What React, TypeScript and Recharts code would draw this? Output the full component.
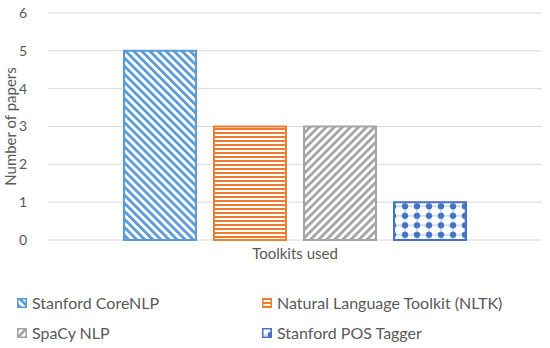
import { BarChart, Bar, XAxis, YAxis, CartesianGrid, Label } from "recharts";

const categories = ["Toolkits used"];
const seriesNames = [
  "Stanford CoreNLP",
  "Natural Language Toolkit (NLTK)",
  "SpaCy NLP",
  "Stanford POS Tagger",
];
const seriesValues = [5, 3, 3, 1];
const yTicks = [0, 1, 2, 3, 4, 5, 6];

const seriesKeys = ["s0", "s1", "s2", "s3"];
const strokes = ["#5B9BD5", "#ED7D31", "#A5A5A5", "#4472C4"];
const patternIds = ["pat-diag-down", "pat-horiz", "pat-diag-up", "pat-dots"];

const data = categories.map((name) => {
  const row: Record<string, string | number> = { name };
  seriesKeys.forEach((k, i) => {
    row[k] = seriesValues[i];
  });
  return row;
});

const FONT = "Lato, 'Open Sans', sans-serif";
const TEXT = "#595959";

function Patterns() {
  return (
    <svg width={0} height={0} style={{ position: "absolute" }}>
      <defs>
        <pattern id="pat-diag-down" patternUnits="userSpaceOnUse" width={5.7} height={5.7} patternTransform="rotate(-45)">
          <rect width={5.7} height={5.7} fill="#fff" />
          <rect width={2.8} height={5.7} fill="#5B9BD5" />
        </pattern>
        <pattern id="pat-horiz" patternUnits="userSpaceOnUse" width={4} height={4}>
          <rect width={4} height={4} fill="#fff" />
          <rect width={4} height={2} fill="#ED7D31" />
        </pattern>
        <pattern id="pat-diag-up" patternUnits="userSpaceOnUse" width={5.7} height={5.7} patternTransform="rotate(45)">
          <rect width={5.7} height={5.7} fill="#fff" />
          <rect width={2.8} height={5.7} fill="#A5A5A5" />
        </pattern>
        <pattern id="pat-dots" patternUnits="userSpaceOnUse" width={12} height={9.5} x={3} y={2}>
          <rect width={12} height={9.5} fill="#fff" />
          <line x1={0} y1={4.75} x2={12} y2={4.75} stroke="#4472C4" strokeWidth={0.8} opacity={0.6} />
          <line x1={6} y1={0} x2={6} y2={9.5} stroke="#4472C4" strokeWidth={0.8} opacity={0.6} />
          <circle cx={6} cy={4.75} r={3.2} fill="#4472C4" />
        </pattern>
      </defs>
    </svg>
  );
}

function LegendBox({ i }: { i: number }) {
  return (
    <svg width={10} height={10} style={{ marginRight: 5, flexShrink: 0 }}>
      <rect x={0.75} y={0.75} width={8.5} height={8.5} fill={`url(#${patternIds[i]})`} stroke={strokes[i]} strokeWidth={1.5} />
    </svg>
  );
}

const legendPos = [
  { left: 17, top: 295 },
  { left: 262, top: 295 },
  { left: 17, top: 325 },
  { left: 262, top: 325 },
];

export default function App() {
  return (
    <div style={{ position: "fixed", left: 0, top: 0, width: 550, height: 348, background: "#fff", fontFamily: FONT }}>
      <Patterns />
      <BarChart
        width={550}
        height={272}
        data={data}
        margin={{ top: 13, right: 8, left: 0, bottom: 0 }}
        barSize={72}
        barGap={18}
      >
        <CartesianGrid horizontal vertical={false} stroke="#D9D9D9" />
        <XAxis
          dataKey="name"
          axisLine={false}
          tickLine={false}
          height={32}
          tickMargin={2}
          tick={{ fill: TEXT, fontSize: 15, fontFamily: FONT }}
        />
        <YAxis
          width={48}
          domain={[0, 6]}
          ticks={yTicks}
          axisLine={false}
          tickLine={false}
          tickMargin={15}
          tick={{ fill: TEXT, fontSize: 14, fontFamily: FONT }}
        >
          <Label
            value="Number of papers"
            angle={-90}
            position="insideLeft"
            offset={11}
            style={{ fill: TEXT, fontSize: 15, fontFamily: FONT, textAnchor: "middle" }}
          />
        </YAxis>
        {seriesKeys.map((k, i) => (
          <Bar
            key={k}
            dataKey={k}
            name={seriesNames[i]}
            fill={`url(#${patternIds[i]})`}
            stroke={strokes[i]}
            strokeWidth={2}
            isAnimationActive={false}
          />
        ))}
      </BarChart>
      {seriesNames.map((n, i) => (
        <div
          key={n}
          style={{
            position: "absolute",
            left: legendPos[i].left,
            top: legendPos[i].top,
            display: "flex",
            alignItems: "center",
            color: TEXT,
            fontSize: 16,
            lineHeight: "16px",
            whiteSpace: "nowrap",
          }}
        >
          <LegendBox i={i} />
          <span>{n}</span>
        </div>
      ))}
    </div>
  );
}
